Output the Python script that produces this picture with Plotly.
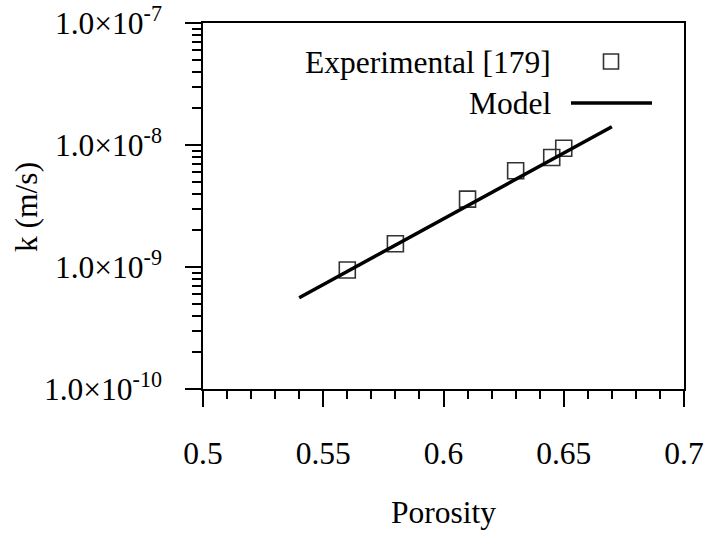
import plotly.graph_objects as go

# Data
exp_porosity = [0.56, 0.58, 0.61, 0.63, 0.645, 0.65]
exp_k = [9.45e-10, 1.55e-9, 3.6e-9, 6.15e-9, 7.9e-9, 9.4e-9]
model_porosity = [0.54, 0.67]
model_k = [5.6e-10, 1.41e-8]

x_tickvals = [0.5, 0.55, 0.6, 0.65, 0.7]
x_ticktext = ["0.5", "0.55", "0.6", "0.65", "0.7"]
y_tickvals = [1e-10, 1e-9, 1e-8, 1e-7]
y_ticktext = ["1.0×10<sup>-10</sup>", "1.0×10<sup>-9</sup>", "1.0×10<sup>-8</sup>", "1.0×10<sup>-7</sup>"]
y_minor = [m * 10.0 ** e for e in range(-10, -7) for m in range(2, 10)]

FONT = "'Liberation Serif', 'Times New Roman', Times, serif"
FS = 31.5

fig = go.Figure()
fig.add_trace(go.Scatter(
    x=exp_porosity, y=exp_k, mode="markers", name="Experimental [179]",
    marker=dict(symbol="square-open", size=16, color="#333333", line=dict(width=1.6, color="#333333")),
    showlegend=False,
))
fig.add_trace(go.Scatter(
    x=model_porosity, y=model_k, mode="lines", name="Model",
    line=dict(color="black", width=3.5), showlegend=False,
))

W, H = 709, 535
L, R, T, B = 203, 25, 23, 146
pw, ph = W - L - R, H - T - B

def px(xp):
    return (xp - L) / pw

def py(yp):
    return (H - B - yp) / ph

axis_common = dict(
    showline=True, linecolor="black", linewidth=1.5, mirror=True,
    ticks="outside", ticklen=16, tickwidth=1.5, tickcolor="black",
    showgrid=False, zeroline=False, automargin=False,
    tickfont=dict(family=FONT, size=FS, color="black"),
)

fig.update_xaxes(
    range=[0.5, 0.7], tickmode="array", tickvals=x_tickvals, ticktext=x_ticktext,
    minor=dict(ticks="outside", ticklen=8, tickwidth=1.5, tickcolor="black", dtick=0.01, tick0=0.5, showgrid=False),
    ticklabelstandoff=19,
    **axis_common,
)
fig.update_yaxes(
    type="log", range=[-10, -7], tickmode="array", tickvals=y_tickvals, ticktext=y_ticktext,
    minor=dict(ticks="outside", ticklen=9, tickwidth=1.5, tickcolor="black", tickmode="array", tickvals=y_minor, showgrid=False),
    ticklabelstandoff=17,
    **axis_common,
)

annots = [
    dict(text="Porosity", x=0.5, y=py(512), xref="paper", yref="paper", xanchor="center", yanchor="middle", showarrow=False),
    dict(text="k (m/s)", x=px(26), y=py(207), xref="paper", yref="paper", xanchor="center", yanchor="middle", textangle=-90, showarrow=False),
    dict(text="Experimental [179]", x=px(553), y=py(62), xref="paper", yref="paper", xanchor="right", yanchor="middle", showarrow=False),
    dict(text="Model", x=px(553), y=py(103), xref="paper", yref="paper", xanchor="right", yanchor="middle", showarrow=False),
]
for a in annots:
    a["font"] = dict(family=FONT, size=FS, color="black")
fig.update_layout(annotations=annots)

# legend samples
fig.add_shape(type="rect", xref="paper", yref="paper", xsizemode="pixel", ysizemode="pixel",
              xanchor=px(611), yanchor=py(61.5), x0=-7.5, x1=7.5, y0=-7.5, y1=7.5,
              line=dict(color="#333333", width=1.6), fillcolor="rgba(0,0,0,0)")
fig.add_shape(type="line", xref="paper", yref="paper", x0=px(571), x1=px(652), y0=py(103), y1=py(103),
              line=dict(color="black", width=3.5))

fig.update_layout(
    width=W, height=H,
    margin=dict(l=L, r=R, t=T, b=B, pad=0, autoexpand=False),
    plot_bgcolor="white", paper_bgcolor="white",
    showlegend=False,
    font=dict(family=FONT, size=FS, color="black"),
)

fig.write_html("out.html")
